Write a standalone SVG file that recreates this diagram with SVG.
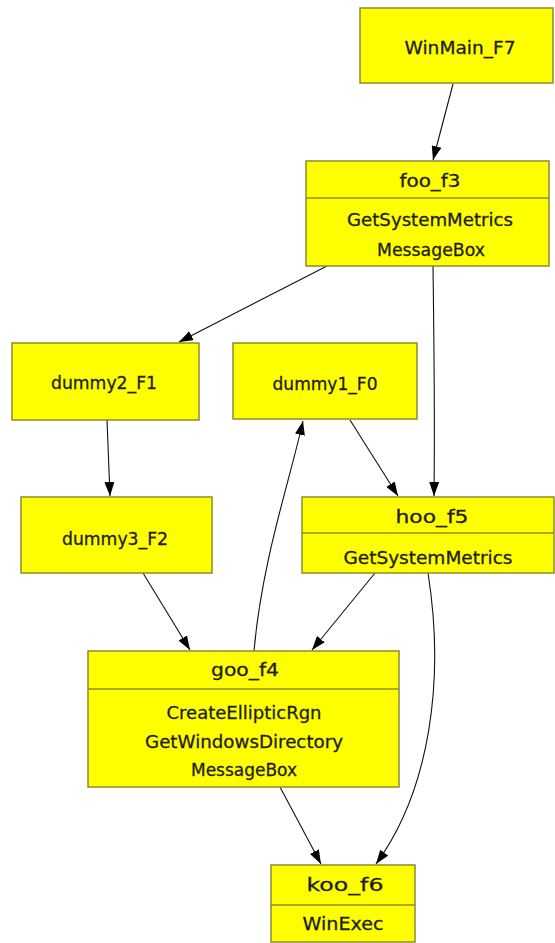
<svg xmlns="http://www.w3.org/2000/svg" width="555" height="943" viewBox="0 0 555 943">
  <style>
    .box { fill: #ffff00; stroke: #8c8c2c; stroke-width: 1.5; }
    .sep { stroke: #8c8c2c; stroke-width: 1.5; }
    .lbl { font-family: "DejaVu Sans", "Open Sans", sans-serif; font-size: 17.5px; fill: #1e1e1e; stroke: #1e1e1e; stroke-width: 0.3; text-anchor: middle; dominant-baseline: central; }
    .edge { fill: none; stroke: #111; stroke-width: 1.1; marker-end: url(#arrow); }
  </style>
  <defs>
    <marker id="arrow" viewBox="0 0 14 10" refX="14" refY="5" markerWidth="14" markerHeight="10" markerUnits="userSpaceOnUse" orient="auto">
      <path d="M0,0 L14,5 L0,10 z" fill="#000"/>
    </marker>
  </defs>

  <g id="edges">
    <path class="edge" d="M453,84 L433,160"/>
    <path class="edge" d="M327,266 L179,342"/>
    <path class="edge" d="M433,266 C434,340 435,420 434,496"/>
    <path class="edge" d="M107,420 L110,496"/>
    <path class="edge" d="M350,420 L398,496"/>
    <path class="edge" d="M143,573 L190,650"/>
    <path class="edge" d="M375,573 L312,650"/>
    <path class="edge" d="M254,651 C262,560 290,480 303,421"/>
    <path class="edge" d="M280,787 L321,864"/>
    <path class="edge" d="M428,573 C445,680 430,790 376,864"/>
  </g>

  <g id="WinMain_F7">
    <rect class="box" x="360" y="8" width="193" height="75"/>
    <text class="lbl" x="460" y="48" textLength="111" lengthAdjust="spacingAndGlyphs">WinMain_F7</text>
  </g>

  <g id="foo_f3">
    <rect class="box" x="306" y="161" width="243" height="105"/>
    <line class="sep" x1="306" y1="198" x2="549" y2="198"/>
    <text class="lbl" x="430" y="181" textLength="61" lengthAdjust="spacingAndGlyphs">foo_f3</text>
    <text class="lbl" x="430" y="220" textLength="166" lengthAdjust="spacingAndGlyphs">GetSystemMetrics</text>
    <text class="lbl" x="431" y="250" textLength="108" lengthAdjust="spacingAndGlyphs">MessageBox</text>
  </g>

  <g id="dummy2_F1">
    <rect class="box" x="12" y="343" width="187" height="77"/>
    <text class="lbl" x="104" y="383" textLength="106" lengthAdjust="spacingAndGlyphs">dummy2_F1</text>
  </g>

  <g id="dummy1_F0">
    <rect class="box" x="233" y="343" width="184" height="76"/>
    <text class="lbl" x="325" y="384" textLength="105" lengthAdjust="spacingAndGlyphs">dummy1_F0</text>
  </g>

  <g id="dummy3_F2">
    <rect class="box" x="21" y="497" width="191" height="76"/>
    <text class="lbl" x="115" y="539" textLength="106" lengthAdjust="spacingAndGlyphs">dummy3_F2</text>
  </g>

  <g id="hoo_f5">
    <rect class="box" x="302" y="497" width="252" height="76"/>
    <line class="sep" x1="302" y1="533" x2="554" y2="533"/>
    <text class="lbl" x="432" y="517" textLength="73" lengthAdjust="spacingAndGlyphs">hoo_f5</text>
    <text class="lbl" x="428" y="558" textLength="169" lengthAdjust="spacingAndGlyphs">GetSystemMetrics</text>
  </g>

  <g id="goo_f4">
    <rect class="box" x="88" y="651" width="311" height="136"/>
    <line class="sep" x1="88" y1="689" x2="399" y2="689"/>
    <text class="lbl" x="245" y="670" textLength="68" lengthAdjust="spacingAndGlyphs">goo_f4</text>
    <text class="lbl" x="244" y="713" textLength="155" lengthAdjust="spacingAndGlyphs">CreateEllipticRgn</text>
    <text class="lbl" x="244" y="742" textLength="198" lengthAdjust="spacingAndGlyphs">GetWindowsDirectory</text>
    <text class="lbl" x="244" y="770" textLength="106" lengthAdjust="spacingAndGlyphs">MessageBox</text>
  </g>

  <g id="koo_f6">
    <rect class="box" x="271" y="865" width="144" height="77"/>
    <line class="sep" x1="271" y1="905" x2="415" y2="905"/>
    <text class="lbl" x="345" y="885" textLength="77" lengthAdjust="spacingAndGlyphs">koo_f6</text>
    <text class="lbl" x="343" y="924" textLength="81" lengthAdjust="spacingAndGlyphs">WinExec</text>
  </g>
</svg>
